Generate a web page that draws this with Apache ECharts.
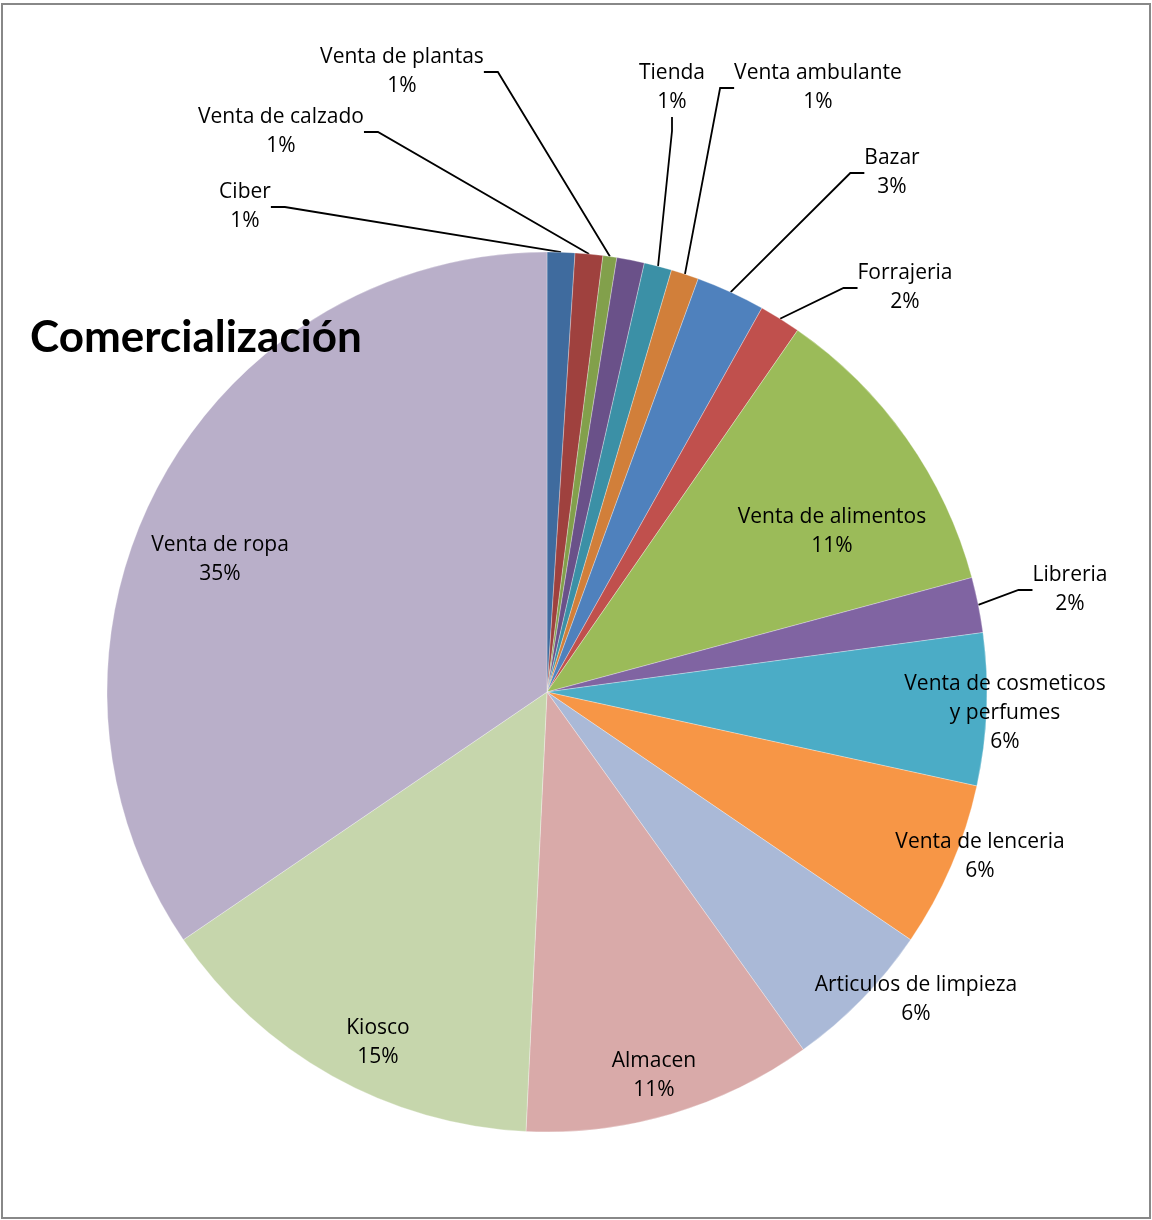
<!DOCTYPE html>
<html>
<head>
<meta charset="utf-8">
<title>Comercialización</title>
<script src="https://cdn.jsdelivr.net/npm/echarts@6/dist/echarts.min.js"></script>
<style>
    html, body { margin: 0; padding: 0; background: #fff; }
    #chart { width: 1152px; height: 1220px; }
</style>
</head>
<body>
<div id="chart"></div>
<script>
    // slices, clockwise from 12 o'clock
    var categories = ['Ciber', 'Venta de calzado', 'Venta de plantas', '', 'Tienda', 'Venta ambulante',
        'Bazar', 'Forrajeria', 'Venta de alimentos', 'Libreria', 'Venta de cosmeticos\ny perfumes',
        'Venta de lenceria', 'Articulos de limpieza', 'Almacen', 'Kiosco', 'Venta de ropa'];
    var values = [2, 2, 1, 2, 2, 2, 5, 3, 22, 4, 11, 12, 11, 21, 29, 68];
    var colors = ['#3f6b9e', '#9f413e', '#82a04b', '#6a5189', '#3b90a6', '#d17f3a',
        '#4f81bd', '#c0504d', '#9bbb59', '#8064a2', '#4bacc6', '#f79646',
        '#aab9d7', '#d9aaa9', '#c6d6ac', '#b9afc9'];

    // where each label sits (px), and whether it gets a leader line
    var labelSpots = [[245, 207], [281, 132], [402, 72], null, [672, 88], [818, 88],
        [892, 173], [905, 288], [832, 532], [1070, 590], [1005, 713],
        [980, 857], [916, 1000], [654, 1076], [378, 1043], [220, 560]];
    var withLine = [true, true, true, false, true, true, true, true, false, true,
        false, false, false, false, false, false];

    var total = values.reduce(function (a, b) { return a + b; }, 0);

    var pieData = values.map(function (v, i) {
        return {
            name: categories[i],
            value: v,
            itemStyle: { color: colors[i] },
            label: {
                show: labelSpots[i] != null,
                position: withLine[i] ? 'outside' : 'inside'
            },
            labelLine: { show: withLine[i] }
        };
    });

    var myChart = echarts.init(document.getElementById('chart'));

    myChart.setOption({
        animation: false,
        title: {
            text: 'Comercialización',
            left: 25,
            top: 311,
            textStyle: {
                fontFamily: 'Lato',
                fontWeight: 'bold',
                fontSize: 44,
                color: '#000'
            }
        },
        graphic: [{
            type: 'rect',
            silent: true,
            shape: { x: 2, y: 4, width: 1148, height: 1214 },
            style: { fill: 'none', stroke: '#888', lineWidth: 2 }
        }],
        series: [{
            type: 'pie',
            center: [547, 692],
            radius: 440,
            startAngle: 90,
            clockwise: true,
            avoidLabelOverlap: false,
            emphasis: { disabled: true },
            itemStyle: { borderColor: '#fff', borderWidth: 0.3 },
            label: {
                fontFamily: 'Open Sans',
                fontSize: 21,
                lineHeight: 29,
                color: '#000',
                align: 'center',
                formatter: function (p) {
                    return p.name + '\n' + Math.round(p.value / total * 100) + '%';
                }
            },
            labelLine: {
                length: 20,
                length2: 14,
                lineStyle: { color: '#000', width: 1.8 }
            },
            labelLayout: function (params) {
                var spot = labelSpots[params.dataIndex];
                if (!spot) return {};
                return { x: spot[0], y: spot[1], align: 'center', verticalAlign: 'middle' };
            },
            data: pieData
        }]
    });
</script>
</body>
</html>
